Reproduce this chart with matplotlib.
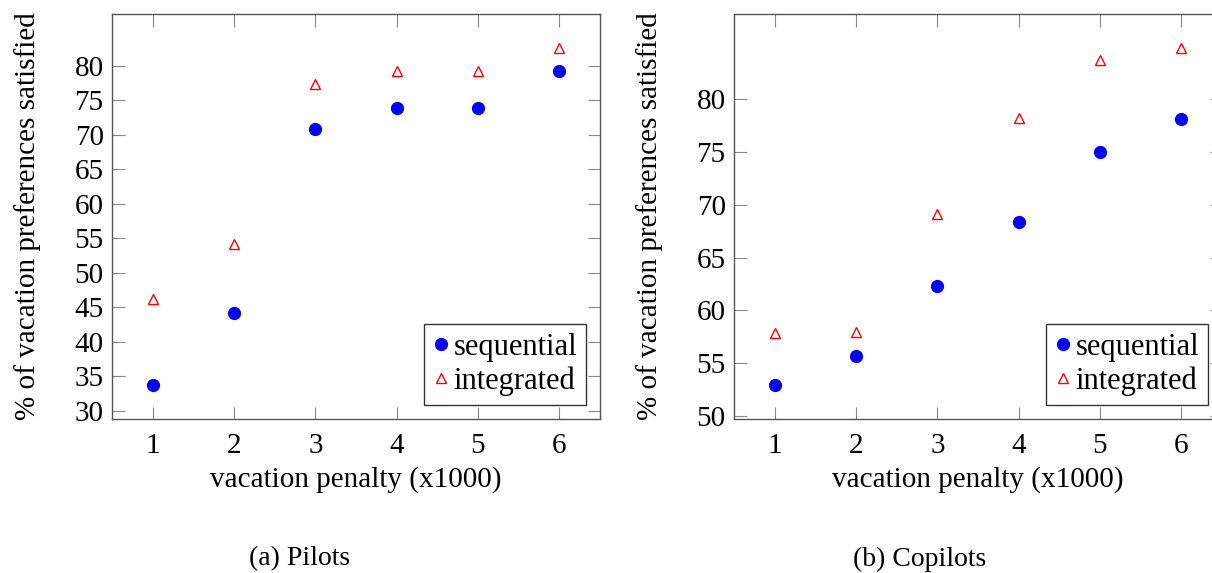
import matplotlib.pyplot as plt

penalty = [1, 2, 3, 4, 5, 6]

# (a) Pilots
pilots_seq = [33.7, 44.2, 70.9, 73.9, 73.9, 79.2]
pilots_int = [46.2, 54.1, 77.4, 79.3, 79.3, 82.6]

# (b) Copilots
copilots_seq = [52.95, 55.7, 62.3, 68.4, 75.0, 78.1]
copilots_int = [57.9, 58.0, 69.1, 78.15, 83.7, 84.8]

plt.rcParams['font.family'] = ['Liberation Serif', 'DejaVu Serif']
plt.rcParams['mathtext.fontset'] = 'stix'

fig = plt.figure(figsize=(12.12, 5.73), dpi=100)
W, H = 1212, 573
FS = 21


def panel(left_px, seq, integ, yticks, ylim, caption, cap_x):
    ax = fig.add_axes([left_px / W, 1 - 419 / H, 488 / W, 405 / H])
    ax.plot(penalty, seq, 'o', color='blue', markersize=8.5, label='sequential')
    ax.plot(penalty, integ, '^', color='red', markerfacecolor='none',
            markersize=7, markeredgewidth=1, label='integrated')
    ax.set_xlim(0.5, 6.5)
    ax.set_ylim(*ylim)
    ax.set_xticks(penalty)
    ax.set_yticks(yticks)
    ax.tick_params(direction='in', length=9, width=0.8, color='#888888',
                   top=True, right=True, labelsize=FS, pad=6)
    ax.tick_params(axis='x', pad=10)
    for s in ax.spines.values():
        s.set_color('#555555')
        s.set_linewidth(1.0)
    ax.set_xlabel('vacation penalty (x1000)', fontsize=FS, labelpad=5)
    ax.set_ylabel('% of vacation preferences satisfied', fontsize=FS, labelpad=24)
    leg = ax.legend(loc='lower right', fontsize=22, frameon=True, fancybox=False,
                    handlelength=0.5, handletextpad=0.15, borderpad=0.3,
                    labelspacing=0.15, borderaxespad=0.45, edgecolor='black')
    leg.get_frame().set_linewidth(1.0)
    fig.text(cap_x / W, 1 - 559 / H, caption, ha='center', va='center', fontsize=FS - 1)
    return ax


panel(112, pilots_seq, pilots_int, [30, 35, 40, 45, 50, 55, 60, 65, 70, 75, 80],
      (28.8, 87.5), '(a) Pilots', 300)
panel(734, copilots_seq, copilots_int, [50, 55, 60, 65, 70, 75, 80],
      (49.75, 88.0), '(b) Copilots', 920)

fig.savefig('out.png', dpi=100)
